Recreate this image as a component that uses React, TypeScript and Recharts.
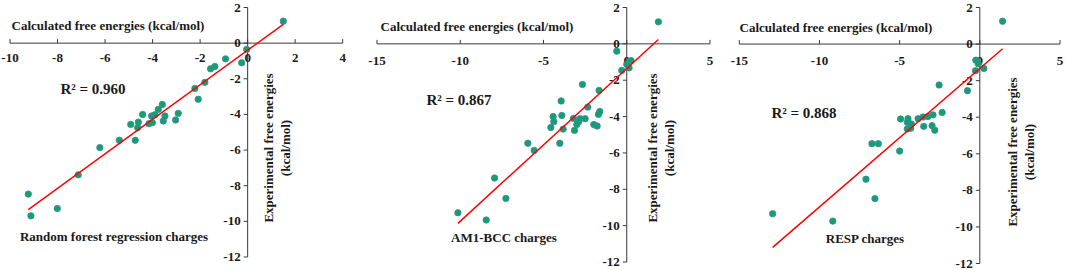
import React from 'react';
import { ScatterChart, Scatter, XAxis, YAxis, ReferenceLine, ReferenceDot } from 'recharts';

// ---------- data ----------
const rfCalc = [1.5, -0.04, -0.25, -0.93, -1.38, -1.56, -1.8, -2.22, -2.08, -3.59, -3.76, -2.92, -4.42, -4.04, -3.9, -3.48, -3.55, -3.03, -4.01, -4.15, -4.6, -4.92, -4.63, -4.73, -5.4, -6.22, -7.13, -8.01, -9.12, -9.23];
const rfExp = [1.23, -0.35, -1.1, -0.88, -1.31, -1.44, -2.2, -2.54, -3.15, -3.44, -3.72, -3.94, -4.0, -4.09, -4.02, -4.09, -4.37, -4.31, -4.46, -4.52, -4.43, -4.56, -4.74, -5.45, -5.45, -5.86, -7.39, -9.28, -9.69, -8.47];

const amCalc = [1.9, -0.6, 0.26, 0, 0.14, -0.3, -2.66, -1.66, -3.94, -2.34, -1.62, -1.7, -3.9, -4.42, -3.2, -2.8, -2.5, -4.38, -2.9, -3.0, -1.98, -1.78, -4.56, -3.82, -3.14, -5.94, -5.56, -4.02, -7.94, -7.26, -10.14, -8.44];
const amExp = [1.21, -0.4, -0.92, -1.13, -1.32, -1.46, -2.23, -2.56, -3.14, -3.48, -3.72, -3.88, -3.94, -4.0, -4.1, -4.12, -4.12, -4.28, -4.3, -4.44, -4.44, -4.52, -4.6, -4.69, -4.76, -5.47, -5.86, -5.47, -7.38, -8.5, -9.29, -9.69];

const respCalc = [1.42, -0.25, -0.1, -0.27, 0.25, -2.54, -0.77, -2.35, -2.92, -3.23, -3.54, -3.85, -4.94, -4.48, -4.52, -4.27, -3.5, -2.98, -4.52, -4.31, -2.81, -6.73, -6.33, -5.0, -7.1, -6.54, -12.92, -9.17];
const respExp = [1.25, -0.88, -1.08, -1.46, -1.33, -2.24, -2.55, -3.74, -3.87, -3.96, -3.99, -4.08, -4.1, -4.08, -4.28, -4.37, -4.5, -4.46, -4.64, -4.6, -4.71, -5.45, -5.45, -5.85, -7.39, -8.45, -9.28, -9.68];

const xTicksRF = [-10, -8, -6, -4, -2, 0, 2, 4];
const xTicksWide = [-15, -10, -5, 0, 5];
const yTicks = [2, 0, -2, -4, -6, -8, -10, -12];

const r2Labels = ['R\u00B2 = 0.960', 'R\u00B2 = 0.867', 'R\u00B2 = 0.868'];
const chargeLabels = ['Random forest regression charges', 'AM1-BCC charges', 'RESP charges'];
const xTitle = 'Calculated free energies (kcal/mol)';
const yTitle1 = 'Experimental free energies';
const yTitle2 = '(kcal/mol)';

// ---------- styles ----------
const FONT = '"Liberation Serif", "Times New Roman", serif';
const AXIS = '#3a3a3a';
const TXT = '#1a1a1a';
const PT_FILL = '#14A35E';
const PT_STROKE = '#3B82C4';

const toPoints = (xs: number[], ys: number[]) => xs.map((x, i) => ({ x, y: ys[i] }));

type Panel = {
  data: { x: number; y: number }[];
  xDomain: [number, number];
  xTicks: number[];
  left: number;
  width: number;
  margin: { top: number; right: number; bottom: number; left: number };
  tickOff: number;
  title: [number, number];
  r2: [number, number];
  charge: [number, number];
  ylab: [number, number, number];
};

const panels: Panel[] = [
  {
    data: toPoints(rfCalc, rfExp),
    xDomain: [-10, 4],
    xTicks: xTicksRF,
    left: 0,
    width: 355,
    margin: { top: 7.5, right: 12.3, bottom: 13, left: 10 },
    tickOff: 19,
    title: [108, 29.5],
    r2: [93, 94],
    charge: [114, 241],
    ylab: [268, 285, 148],
  },
  {
    data: toPoints(amCalc, amExp),
    xDomain: [-15, 5],
    xTicks: xTicksWide,
    left: 355,
    width: 360,
    margin: { top: 7.5, right: 5, bottom: 8, left: 22 },
    tickOff: 21,
    title: [477, 30.5],
    r2: [459, 105],
    charge: [504, 242],
    ylab: [652, 669, 148],
  },
  {
    data: toPoints(respCalc, respExp),
    xDomain: [-15, 5],
    xTicks: xTicksWide,
    left: 715,
    width: 350,
    margin: { top: 7.5, right: 5, bottom: 6.5, left: 24.3 },
    tickOff: 21,
    title: [836, 31.5],
    r2: [804, 118],
    charge: [865, 242.5],
    ylab: [1012, 1029, 152],
  },
];

const textStyle = { fontFamily: FONT, fontWeight: 700 as const, fill: TXT };

const xTickShape = (label: number, off: number) => (p: any) => (
  <g>
    <line x1={p.cx} y1={p.cy} x2={p.cx} y2={p.cy - 4} stroke={AXIS} strokeWidth={1} />
    <text x={p.cx} y={p.cy + off} textAnchor="middle" fontSize={13} {...textStyle}>
      {label}
    </text>
  </g>
);

const yTickShape = (label: number) => (p: any) => (
  <g>
    <line x1={p.cx} y1={p.cy} x2={p.cx - 4} y2={p.cy} stroke={AXIS} strokeWidth={1} />
    <text x={p.cx - 7} y={p.cy + 4} textAnchor="end" fontSize={13} {...textStyle}>
      {label}
    </text>
  </g>
);

const dotShape = (p: any) => (
  <circle cx={p.cx} cy={p.cy} r={3.2} fill={PT_FILL} stroke={PT_STROKE} strokeWidth={0.8} />
);
const noShape = () => <g />;

function PanelChart({ panel }: { panel: Panel }) {
  return (
    <div style={{ position: 'absolute', left: panel.left, top: 0 }}>
      <ScatterChart width={panel.width} height={270} margin={panel.margin}>
        <XAxis type="number" dataKey="x" domain={panel.xDomain} hide />
        <YAxis type="number" dataKey="y" domain={[-12, 2]} hide />
        <ReferenceLine y={0} stroke={AXIS} strokeWidth={1} ifOverflow="visible" />
        <ReferenceLine x={0} stroke={AXIS} strokeWidth={1} ifOverflow="visible" />
        {panel.xTicks.map((t) => (
          <ReferenceDot
            key={'xt' + t}
            x={t}
            y={0}
            r={1}
            ifOverflow="visible"
            shape={xTickShape(t, panel.tickOff)}
          />
        ))}
        {yTicks.map((t) => (
          <ReferenceDot key={'yt' + t} x={0} y={t} r={1} ifOverflow="visible" shape={yTickShape(t)} />
        ))}
        <Scatter data={panel.data} shape={dotShape} isAnimationActive={false} />
        <Scatter
          data={panel.data}
          shape={noShape}
          line={{ stroke: '#FF0000', strokeWidth: 1.5 }}
          lineType="fitting"
          isAnimationActive={false}
        />
      </ScatterChart>
    </div>
  );
}

export default function App() {
  return (
    <div
      style={{
        position: 'absolute',
        left: 0,
        top: 0,
        width: 1065,
        height: 270,
        background: '#fff',
        overflow: 'hidden',
      }}
    >
      {panels.map((p, i) => (
        <PanelChart key={i} panel={p} />
      ))}
      <svg
        width={1065}
        height={270}
        style={{ position: 'absolute', left: 0, top: 0, pointerEvents: 'none' }}
      >
        {panels.map((p, i) => (
          <g key={i}>
            <text x={p.title[0]} y={p.title[1]} textAnchor="middle" fontSize={13} {...textStyle}>
              {xTitle}
            </text>
            <text x={p.r2[0]} y={p.r2[1]} textAnchor="middle" fontSize={15} {...textStyle}>
              {r2Labels[i]}
            </text>
            <text x={p.charge[0]} y={p.charge[1]} textAnchor="middle" fontSize={13} {...textStyle}>
              {chargeLabels[i]}
            </text>
            <text
              x={p.ylab[0]}
              y={p.ylab[2]}
              textAnchor="middle"
              dominantBaseline="central"
              fontSize={13}
              transform={`rotate(-90 ${p.ylab[0]} ${p.ylab[2]})`}
              {...textStyle}
            >
              {yTitle1}
            </text>
            <text
              x={p.ylab[1]}
              y={p.ylab[2]}
              textAnchor="middle"
              dominantBaseline="central"
              fontSize={13}
              transform={`rotate(-90 ${p.ylab[1]} ${p.ylab[2]})`}
              {...textStyle}
            >
              {yTitle2}
            </text>
          </g>
        ))}
      </svg>
    </div>
  );
}
